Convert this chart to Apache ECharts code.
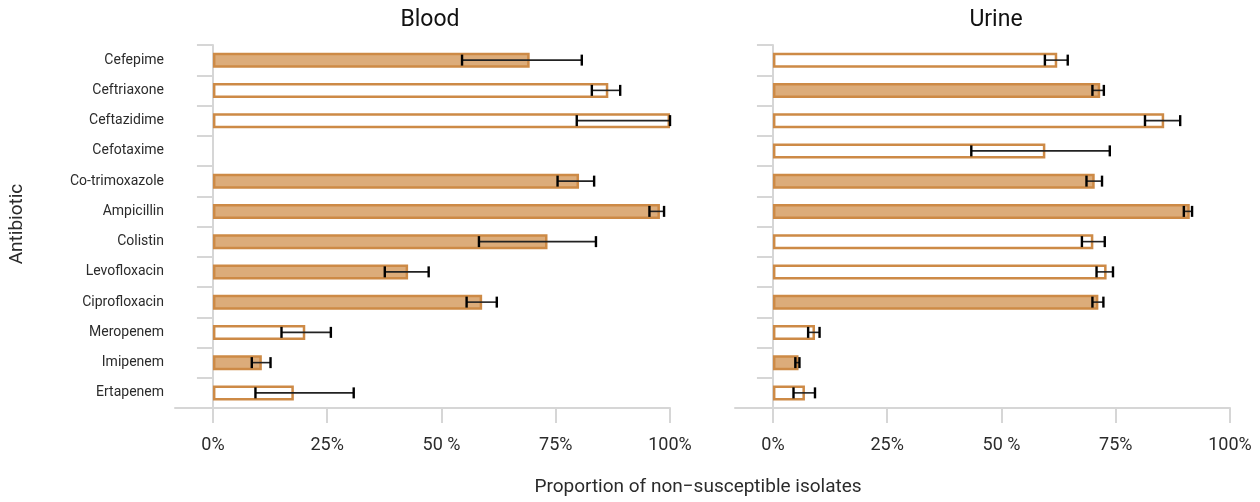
<!DOCTYPE html>
<html>
<head>
<meta charset="utf-8">
<script src="https://cdn.jsdelivr.net/npm/echarts@6/dist/echarts.min.js"></script>
<style>
html,body{margin:0;padding:0;background:#fff;}
#chart{width:1260px;height:502px;}
</style>
</head>
<body>
<div id="chart"></div>
<script>
// ---- Data ----
const categories = ["Cefepime","Ceftriaxone","Ceftazidime","Cefotaxime","Co-trimoxazole","Ampicillin","Colistin","Levofloxacin","Ciprofloxacin","Meropenem","Imipenem","Ertapenem"];
const panelTitles = ["Blood", "Urine"];

const bloodValues = [69.3, 86.5, 100.0, null, 80.1, 97.8, 73.2, 42.7, 58.9, 20.2, 10.7, 17.7];
const bloodLow    = [54.5, 82.9, 79.6, null, 75.4, 95.5, 58.2, 37.6, 55.5, 15.0, 8.5, 9.3];
const bloodHigh   = [80.7, 89.1, 100.0, null, 83.4, 98.7, 83.8, 47.2, 62.1, 25.8, 12.6, 30.8];
const bloodFilled = [true, false, false, null, true, true, true, true, true, false, true, false];

const urineValues = [62.2, 71.6, 85.6, 59.6, 70.4, 91.2, 70.1, 73.0, 71.2, 9.2, 5.6, 7.0];
const urineLow    = [59.5, 69.9, 81.4, 43.4, 68.6, 89.9, 67.6, 70.8, 69.9, 7.7, 4.9, 4.5];
const urineHigh   = [64.5, 72.4, 89.1, 73.7, 72.0, 91.7, 72.6, 74.4, 72.3, 10.2, 5.8, 9.2];
const urineFilled = [false, true, false, false, true, true, false, false, true, false, true, false];

const xTickValues = [0, 25, 50, 75, 100];
const xTickLabels = ["0%", "25%", "50 %", "75%", "100%"];
const xAxisTitle = "Proportion of non\u2212susceptible isolates";
const yAxisTitle = "Antibiotic";

// ---- Styles ----
const FONT = "Roboto";
const TEXT = "#2b2b2b";
const AXIS = "#d6d6d6";
const FILL = "#dcac7a";
const EDGE = "#cd8a46";

function barData(values, filled) {
  return values.map((v, i) => {
    if (v === null) return '-';
    return {
      value: v,
      itemStyle: { color: filled[i] ? FILL : '#ffffff', borderColor: EDGE, borderWidth: 2.5 }
    };
  });
}
function errData(low, high) {
  const out = [];
  low.forEach((l, i) => { if (l !== null) out.push([l, high[i], i]); });
  return out;
}
function renderErr(params, api) {
  const cat = api.value(2);
  const p1 = api.coord([api.value(0), cat]);
  const p2 = api.coord([api.value(1), cat]);
  const h = 5.5;
  return {
    type: 'group',
    children: [
      { type: 'line', shape: { x1: p1[0], y1: p1[1], x2: p2[0], y2: p2[1] }, style: { stroke: '#222', lineWidth: 1.6 } },
      { type: 'line', shape: { x1: p1[0], y1: p1[1] - h, x2: p1[0], y2: p1[1] + h }, style: { stroke: '#000', lineWidth: 2.4 } },
      { type: 'line', shape: { x1: p2[0], y1: p2[1] - h, x2: p2[0], y2: p2[1] + h }, style: { stroke: '#000', lineWidth: 2.4 } }
    ]
  };
}

const grids = [
  { left: 175, top: 45, width: 495, height: 363 },
  { left: 735, top: 45, width: 495, height: 363 }
];

function xAxisFor(idx) {
  return {
    type: 'value', gridIndex: idx, min: -8.3, max: 100,
    axisLine: { show: true, lineStyle: { color: AXIS, width: 2 } },
    axisTick: { show: true, length: 15, customValues: xTickValues, lineStyle: { color: AXIS, width: 2 } },
    axisLabel: {
      customValues: xTickValues, margin: 28, fontFamily: FONT, fontSize: 18, color: TEXT,
      formatter: v => xTickLabels[xTickValues.indexOf(v)]
    },
    splitLine: { show: false }
  };
}
function yAxisFor(idx, showLabels) {
  return {
    type: 'category', gridIndex: idx, data: categories, inverse: true, offset: -16,
    axisLine: { show: true, lineStyle: { color: AXIS, width: 2 } },
    axisTick: { show: true, length: 16, lineStyle: { color: AXIS, width: 2 } },
    axisLabel: { show: showLabels, margin: 27, fontFamily: FONT, fontSize: 14, color: TEXT },
    splitLine: { show: false }
  };
}

const option = {
  animation: false,
  backgroundColor: '#ffffff',
  grid: grids,
  xAxis: [xAxisFor(0), xAxisFor(1)],
  yAxis: [yAxisFor(0, true), yAxisFor(1, false)],
  series: [
    { type: 'bar', xAxisIndex: 0, yAxisIndex: 0, barWidth: 15, data: barData(bloodValues, bloodFilled) },
    { type: 'bar', xAxisIndex: 1, yAxisIndex: 1, barWidth: 15, data: barData(urineValues, urineFilled) },
    { type: 'custom', xAxisIndex: 0, yAxisIndex: 0, renderItem: renderErr, data: errData(bloodLow, bloodHigh), z: 10 },
    { type: 'custom', xAxisIndex: 1, yAxisIndex: 1, renderItem: renderErr, data: errData(urineLow, urineHigh), z: 10 }
  ],
  graphic: [
    { type: 'text', x: 430, y: 20, style: { text: panelTitles[0], fontFamily: FONT, fontSize: 23, fill: '#111', align: 'center', verticalAlign: 'middle' } },
    { type: 'text', x: 996, y: 20, style: { text: panelTitles[1], fontFamily: FONT, fontSize: 23, fill: '#111', align: 'center', verticalAlign: 'middle' } },
    { type: 'text', x: 698, y: 487, style: { text: xAxisTitle, fontFamily: FONT, fontSize: 19, fill: TEXT, align: 'center', verticalAlign: 'middle' } },
    { type: 'text', x: 17, y: 224, rotation: Math.PI / 2, style: { text: yAxisTitle, fontFamily: FONT, fontSize: 19, fill: TEXT, align: 'center', verticalAlign: 'middle' } }
  ]
};

const chart = echarts.init(document.getElementById('chart'), null, { renderer: 'canvas' });
chart.setOption(option);
</script>
</body>
</html>
